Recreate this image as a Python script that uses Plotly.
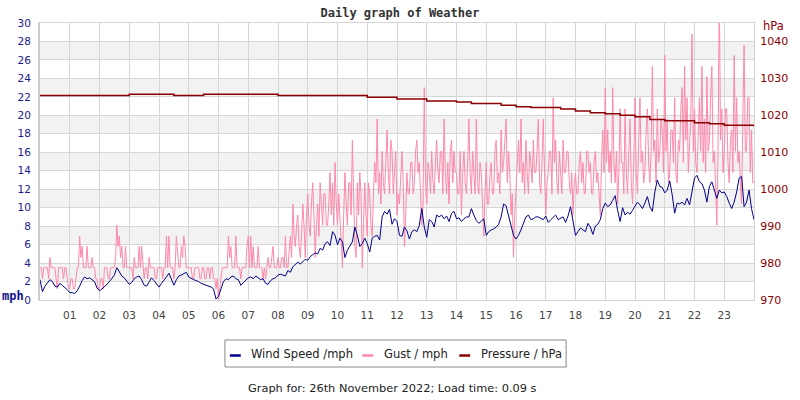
import plotly.graph_objects as go

# ---------------- data ----------------
hour_labels = ["%02d" % h for h in range(1, 24)]

# wind speed, mph, every 5 minutes from 00:00 to 24:00 (one row per hour)
wind_speed = [
    2.2, 0.9, 1.5, 1.8, 2.2, 2.0, 1.5, 1.4, 1.8, 1.6, 1.4, 1.1,
    0.8, 0.8, 0.7, 1.0, 1.5, 2.1, 2.5, 2.3, 2.4, 2.2, 2.0, 1.3,
    1.0, 1.2, 1.4, 1.7, 2.0, 2.4, 2.7, 3.5, 3.1, 2.6, 2.4, 2.1,
    1.7, 1.9, 2.3, 2.5, 2.6, 2.2, 1.6, 1.5, 2.0, 2.4, 2.1, 1.8,
    1.4, 1.8, 2.1, 2.5, 2.9, 2.2, 1.6, 2.2, 2.6, 2.7, 2.9, 3.0,
    2.5, 2.3, 2.2, 2.1, 2.0, 1.8, 1.7, 1.6, 1.5, 1.4, 1.2, 0.1,
    0.4, 1.2, 2.0, 2.3, 2.2, 2.5, 2.6, 2.3, 2.2, 1.6, 1.9, 2.1,
    2.4, 2.5, 2.3, 2.6, 2.4, 2.2, 2.3, 1.8, 1.7, 2.1, 2.3, 2.4,
    2.7, 2.8, 2.7, 2.6, 3.2, 3.0, 3.6, 3.9, 4.1, 3.9, 4.2, 4.4,
    4.3, 4.7, 4.9, 5.1, 5.0, 5.6, 5.4, 6.1, 6.3, 5.9, 7.4, 7.0,
    6.0, 6.7, 6.3, 4.6, 5.4, 5.9, 6.3, 7.9, 7.0, 5.8, 6.1, 6.7,
    6.1, 5.2, 6.7, 6.9, 7.0, 6.5, 9.0, 9.6, 9.3, 9.8, 8.2, 8.8,
    8.5, 7.0, 6.9, 7.9, 7.5, 6.6, 7.4, 7.6, 7.4, 8.1, 9.9, 7.9,
    6.8, 8.7, 8.5, 7.9, 9.2, 9.0, 9.2, 8.8, 9.1, 8.5, 9.4, 9.6,
    8.8, 8.9, 8.5, 8.8, 9.0, 9.0, 9.9, 9.2, 8.6, 8.3, 8.6, 8.8,
    7.0, 7.4, 7.6, 7.7, 7.9, 8.2, 9.0, 10.4, 10.2, 9.2, 8.3, 7.0,
    6.6, 7.0, 7.6, 8.3, 9.0, 9.2, 8.7, 8.8, 9.0, 9.0, 8.8, 8.7,
    9.1, 8.4, 8.7, 9.0, 9.2, 8.7, 8.9, 9.0, 8.4, 9.1, 10.1, 8.3,
    7.0, 7.4, 7.8, 7.6, 7.4, 8.3, 7.9, 7.1, 8.0, 8.2, 8.7, 9.9,
    10.5, 10.1, 10.3, 10.8, 11.3, 9.7, 8.5, 10.0, 9.2, 9.5, 9.3, 9.7,
    10.2, 10.6, 10.3, 9.9, 10.5, 11.2, 10.1, 9.6, 11.7, 13.0, 12.3, 12.2,
    11.6, 11.9, 12.9, 11.4, 9.4, 10.5, 10.4, 10.6, 10.3, 11.0, 10.3, 11.6,
    13.2, 13.5, 12.8, 12.6, 11.9, 10.6, 12.3, 12.8, 11.9, 11.0, 11.9, 11.6,
    11.7, 11.2, 10.5, 9.9, 10.6, 11.7, 13.2, 13.4, 10.1, 10.6, 11.9, 9.9,
    8.7,
]

# gust, mph, every 2.5 minutes from 00:00 to 24:00 (one row per hour)
gust = [
    3.5, 3.5, 2.3, 3.5, 3.5, 3.5, 3.5, 2.3, 4.6, 3.5, 3.5, 3.5, 3.5, 2.3, 1.2, 3.5, 3.5, 3.5, 3.5, 2.3, 3.5, 3.5, 2.3, 1.2,
    1.2, 2.3, 2.3, 1.2, 1.2, 2.3, 3.5, 3.5, 6.9, 4.6, 5.8, 3.5, 3.5, 3.5, 5.8, 3.5, 3.5, 3.5, 4.6, 3.5, 3.5, 2.3, 2.3, 1.2,
    1.2, 2.3, 2.3, 1.2, 3.5, 3.5, 3.5, 2.3, 2.3, 3.5, 3.5, 3.5, 3.5, 4.6, 8.1, 5.8, 6.9, 4.6, 5.8, 3.5, 3.5, 5.8, 3.5, 3.5,
    3.5, 3.5, 3.5, 2.3, 4.6, 3.5, 3.5, 3.5, 5.8, 3.5, 5.8, 3.5, 2.3, 3.5, 3.5, 2.3, 4.6, 3.5, 3.5, 3.5, 3.5, 2.3, 2.3, 3.5,
    3.5, 3.5, 3.5, 2.3, 3.5, 3.5, 6.9, 3.5, 6.9, 3.5, 3.5, 3.5, 2.3, 3.5, 6.9, 4.6, 3.5, 3.5, 5.8, 4.6, 6.9, 5.8, 3.5, 3.5,
    3.5, 3.5, 3.5, 2.3, 2.3, 3.5, 3.5, 3.5, 3.5, 2.3, 2.3, 3.5, 3.5, 2.3, 2.3, 3.5, 3.5, 2.3, 3.5, 3.5, 2.3, 2.3, 1.2, 2.3,
    0.0, 1.2, 2.3, 3.5, 3.5, 3.5, 3.5, 3.5, 6.9, 4.6, 5.8, 3.5, 3.5, 3.5, 6.9, 3.5, 3.5, 3.5, 2.3, 3.5, 3.5, 3.5, 3.5, 5.8,
    6.9, 3.5, 6.9, 3.5, 5.8, 3.5, 3.5, 3.5, 5.8, 3.5, 3.5, 3.5, 2.3, 3.5, 2.3, 3.5, 4.6, 3.5, 3.5, 4.6, 5.8, 3.5, 3.5, 3.5,
    4.6, 3.5, 3.5, 4.6, 4.6, 3.5, 6.9, 3.5, 3.5, 5.8, 6.9, 4.6, 10.4, 6.9, 5.8, 8.1, 9.2, 5.8, 4.6, 6.9, 10.4, 8.1, 4.6, 9.2,
    11.5, 8.1, 6.9, 10.4, 12.7, 9.2, 4.6, 8.1, 10.4, 6.9, 12.7, 10.4, 8.1, 11.5, 11.5, 8.1, 8.1, 10.4, 13.8, 9.2, 12.7, 8.1, 14.9, 10.4,
    8.1, 11.5, 9.2, 6.9, 3.5, 9.2, 13.8, 10.4, 8.1, 12.7, 12.7, 9.2, 17.3, 11.5, 5.8, 4.6, 12.7, 9.2, 13.8, 11.5, 3.5, 8.1, 12.7, 9.2,
    6.9, 12.7, 11.5, 8.1, 6.9, 11.5, 14.9, 12.7, 19.6, 11.5, 13.8, 10.4, 16.1, 12.7, 11.5, 14.9, 18.4, 13.8, 11.5, 17.3, 16.1, 11.5, 13.8, 16.1,
    9.2, 11.5, 10.4, 13.8, 16.1, 12.7, 5.8, 9.2, 13.8, 11.5, 11.5, 14.9, 14.9, 11.5, 12.7, 16.1, 17.3, 13.8, 14.9, 11.5, 8.1, 10.4, 23.0, 12.7,
    10.4, 14.9, 13.8, 11.5, 16.1, 12.7, 11.5, 14.9, 17.3, 13.8, 12.7, 16.1, 16.1, 11.5, 19.6, 13.8, 11.5, 14.9, 10.4, 16.1, 17.3, 12.7, 16.1, 13.8,
    13.8, 11.5, 11.5, 16.1, 9.2, 13.8, 16.1, 12.7, 11.5, 14.9, 19.6, 13.8, 11.5, 16.1, 13.8, 11.5, 19.6, 12.7, 11.5, 14.9, 13.8, 10.4, 6.9, 11.5,
    14.9, 10.4, 10.4, 13.8, 14.9, 11.5, 11.5, 16.1, 17.3, 12.7, 13.8, 11.5, 18.4, 13.8, 14.9, 17.3, 19.6, 12.7, 16.1, 13.8, 9.2, 11.5, 4.6, 9.2,
    11.5, 14.9, 17.3, 13.8, 19.6, 12.7, 14.9, 11.5, 17.3, 13.8, 11.5, 16.1, 14.9, 12.7, 17.3, 13.8, 13.8, 16.1, 19.6, 12.7, 11.5, 14.9, 19.6, 13.8,
    9.2, 12.7, 13.8, 16.1, 16.1, 11.5, 21.9, 14.9, 17.3, 12.7, 11.5, 16.1, 13.8, 11.5, 17.3, 13.8, 13.8, 16.1, 16.1, 12.7, 11.5, 13.8, 9.2, 12.7,
    13.8, 11.5, 11.5, 14.9, 16.1, 12.7, 14.9, 11.5, 11.5, 16.1, 16.1, 13.8, 14.9, 11.5, 11.5, 14.9, 16.1, 12.7, 13.8, 11.5, 9.2, 14.9, 18.4, 13.8,
    23.0, 14.9, 18.4, 13.8, 16.1, 12.7, 23.0, 14.9, 12.7, 16.1, 10.4, 13.8, 20.7, 14.9, 14.9, 11.5, 20.7, 13.8, 11.5, 16.1, 19.6, 12.7, 10.4, 14.9,
    21.9, 13.8, 11.5, 17.3, 21.9, 14.9, 16.1, 12.7, 13.8, 18.4, 20.7, 14.9, 12.7, 16.1, 25.3, 16.1, 17.3, 12.7, 20.7, 14.9, 16.1, 19.6, 18.4, 13.8,
    26.5, 16.1, 19.6, 12.7, 13.8, 18.4, 18.4, 14.9, 21.9, 13.8, 12.7, 17.3, 16.1, 20.7, 23.0, 14.9, 25.3, 17.3, 21.9, 13.8, 16.1, 19.6, 28.8, 16.1,
    20.7, 14.9, 13.8, 18.4, 21.9, 16.1, 25.3, 14.9, 19.6, 13.8, 24.2, 16.1, 17.3, 21.9, 25.3, 14.9, 16.1, 12.7, 8.1, 16.1, 33.4, 17.3, 20.7, 13.8,
    16.1, 20.7, 20.7, 14.9, 12.7, 17.3, 18.4, 13.8, 26.5, 16.1, 21.9, 14.9, 16.1, 12.7, 10.4, 19.6, 27.6, 16.1, 16.1, 21.9, 21.9, 13.8, 18.4, 12.7,
    12.7,
]

# pressure, hPa, every 30 minutes from 00:00 to 24:00
pressure = [
    1025.4, 1025.4, 1025.4, 1025.4, 1025.4, 1025.4,
    1025.7, 1025.7, 1025.7, 1025.4, 1025.4, 1025.7,
    1025.7, 1025.7, 1025.7, 1025.7, 1025.4, 1025.4,
    1025.4, 1025.4, 1025.4, 1025.4, 1024.9, 1024.9,
    1024.4, 1024.4, 1023.9, 1023.9, 1023.6, 1023.2,
    1023.2, 1022.7, 1022.3, 1022.1, 1022.1, 1021.7,
    1021.2, 1020.7, 1020.4, 1020.0, 1019.6, 1018.9,
    1018.5, 1018.5, 1018.0, 1017.7, 1017.3, 1017.3,
    1017.0,
]

wind_t = [24 * i / (len(wind_speed) - 1) for i in range(len(wind_speed))]
gust_t = [24 * i / (len(gust) - 1) for i in range(len(gust))]
pres_t = [24 * i / (len(pressure) - 1) for i in range(len(pressure))]

legend_names = ["Wind Speed /mph", "Gust / mph", "Pressure / hPa"]
WIND_C, GUST_C, PRES_C = "#00008b", "#ff88aa", "#8b0000"

# ---------------- layout helpers ----------------
L, R, T, B = 40, 38, 23, 100
W, H = 800, 400
PW, PH = W - L - R, H - T - B


def px(x):
    return (x - L) / PW


def py(y):
    return (H - B - y) / PH


fig = go.Figure()
fig.add_trace(go.Scatter(x=gust_t, y=gust, mode="lines", name=legend_names[1],
                         line=dict(color=GUST_C, width=1), showlegend=False))
fig.add_trace(go.Scatter(x=wind_t, y=wind_speed, mode="lines", name=legend_names[0],
                         line=dict(color=WIND_C, width=1), showlegend=False))
fig.add_trace(go.Scatter(x=pres_t, y=pressure, mode="lines", name=legend_names[2],
                         line=dict(color=PRES_C, width=1.5, shape="hv"),
                         yaxis="y2", showlegend=False))

shapes = []
for y0 in range(2, 30, 4):
    shapes.append(dict(type="rect", xref="paper", yref="y", x0=0, x1=1, y0=y0, y1=y0 + 2,
                       fillcolor="#f2f2f2", line=dict(width=0), layer="below"))

# legend box drawn like the reference
shapes.append(dict(type="rect", xref="paper", yref="paper",
                   x0=px(227), x1=px(572), y0=py(340), y1=py(367),
                   line=dict(color="#888888", width=1), fillcolor="white"))
leg_items = [(232, 251, WIND_C, legend_names[0]),
             (366, 386, GUST_C, legend_names[1]),
             (464, 484, PRES_C, legend_names[2])]
annotations = []
for lx, tx, col, name in leg_items:
    shapes.append(dict(type="line", xref="paper", yref="paper",
                       x0=px(lx), x1=px(lx + 11), y0=py(355.5), y1=py(355.5),
                       line=dict(color=col, width=2.5)))
    annotations.append(dict(xref="paper", yref="paper", x=px(tx), y=py(354),
                            xanchor="left", yanchor="middle", showarrow=False,
                            text=name, font=dict(family="DejaVu Sans", size=11.5, color="#222")))

annotations.append(dict(xref="paper", yref="paper", x=px(396), y=py(388),
                        xanchor="center", yanchor="middle", showarrow=False,
                        text="Graph for: 26th November 2022; Load time: 0.09 s",
                        font=dict(family="DejaVu Sans", size=11.35, color="#222")))
annotations.append(dict(xref="paper", yref="paper", x=px(13), y=py(296),
                        xanchor="center", yanchor="middle", showarrow=False,
                        text="<b>mph</b>",
                        font=dict(family="DejaVu Sans Mono", size=12, color="#10108a")))
annotations.append(dict(xref="paper", yref="paper", x=px(782), y=py(26),
                        xanchor="center", yanchor="middle", showarrow=False,
                        text="hPa",
                        font=dict(family="DejaVu Sans", size=11.5, color=PRES_C)))

fig.update_layout(
    width=W, height=H,
    margin=dict(l=L, r=R, t=T, b=B, pad=0),
    paper_bgcolor="white", plot_bgcolor="white",
    title=dict(text="<b>Daily graph of Weather</b>", x=0.5, xanchor="center",
               y=1 - 13 / H, yanchor="middle", yref="container",
               font=dict(family="DejaVu Sans Mono", size=12, color="#333")),
    xaxis=dict(range=[0, 24], tickvals=list(range(1, 24)), ticktext=hour_labels,
               showgrid=True, gridcolor="#d6d6d6", gridwidth=1, zeroline=False,
               showline=True, mirror=True, linecolor="#d6d6d6", linewidth=1,
               ticks="", ticklabelstandoff=5,
               tickfont=dict(family="DejaVu Sans", size=10.5, color="#444")),
    yaxis=dict(range=[0, 30], tick0=0, dtick=2, showgrid=True, gridcolor="#d6d6d6",
               gridwidth=1, zeroline=False, showline=True, linecolor="#cccccc",
               linewidth=2, ticks="", ticklabelstandoff=5,
               tickfont=dict(family="DejaVu Sans", size=10.5, color="#1a1a8c")),
    yaxis2=dict(range=[970, 1045], tickvals=list(range(970, 1041, 10)),
                overlaying="y", side="right", showgrid=False, zeroline=False,
                showline=True, linecolor="#d6d6d6", linewidth=1, ticks="",
                ticklabelstandoff=3,
                tickfont=dict(family="DejaVu Sans", size=11, color=PRES_C)),
    shapes=shapes,
    annotations=annotations,
    showlegend=False,
)

fig.write_html("out.html")
